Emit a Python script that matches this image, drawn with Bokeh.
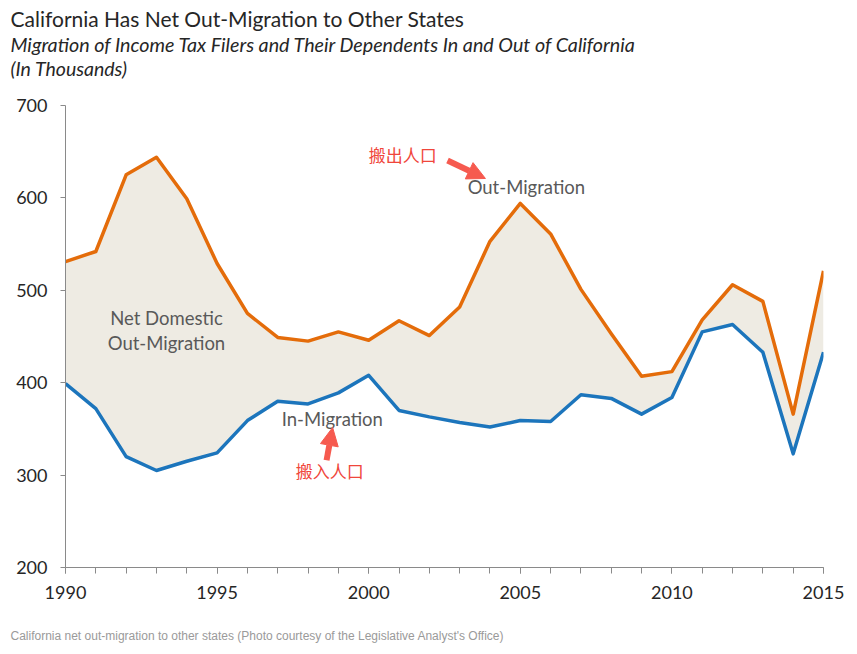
from bokeh.plotting import figure
from bokeh.models import Title, Arrow, NormalHead, FixedTicker, Range1d
from bokeh.core.properties import value
from bokeh.embed import file_html
from bokeh.resources import INLINE

years = list(range(1990, 2016))
out_migration = [531, 542, 625, 644, 599, 529, 475, 449, 445, 455, 446, 467, 451, 482,
                 553, 594, 561, 501, 453, 407, 412, 468, 506, 488, 366, 521]
in_migration = [399, 372, 320, 305, 315, 324, 359, 380, 377, 389, 408, 370, 363, 357,
                352, 359, 358, 387, 383, 366, 384, 455, 463, 433, 323, 433]
label_years = [1990, 1995, 2000, 2005, 2010, 2015]
y_ticks = [200, 300, 400, 500, 600, 700]

FONT = "Lato"
ORANGE = "#e46c0a"
BLUE = "#1c75bc"
FILL = "#eeebe3"
GRAY_TXT = "#595959"
RED = "#f0463b"
ARROW = "#f65a4f"

p = figure(width=850, height=650, output_backend="svg", toolbar_location=None,
           x_range=Range1d(1990, 2015), y_range=Range1d(200, 700),
           min_border_left=65, min_border_right=27, min_border_top=105,
           min_border_bottom=83, background_fill_color="white",
           border_fill_color="white")
p.xgrid.visible = False
p.ygrid.visible = False
p.outline_line_color = None

p.varea(x=years, y1=in_migration, y2=out_migration, fill_color=FILL)
p.line(years, out_migration, line_color=ORANGE, line_width=3.5, line_join="round")
p.line(years, in_migration, line_color=BLUE, line_width=3.5, line_join="round")

# axes
p.xaxis.ticker = FixedTicker(ticks=label_years, minor_ticks=years)
p.yaxis.ticker = FixedTicker(ticks=y_ticks, minor_ticks=[])
for ax in (p.xaxis[0], p.yaxis[0]):
    ax.axis_line_color = "#8a8a8a"
    ax.major_tick_line_color = "#8a8a8a"
    ax.minor_tick_line_color = "#8a8a8a"
    ax.major_tick_in = 0
    ax.minor_tick_in = 0
    ax.major_label_text_font = FONT
    ax.major_label_text_font_size = "18px"
    ax.major_label_text_color = "#262626"
p.xaxis.major_tick_out = 6
p.xaxis.minor_tick_out = 6
p.xaxis.major_label_standoff = 12
p.yaxis.major_tick_out = 5
p.yaxis.minor_tick_out = 0
p.yaxis.major_label_standoff = 13

# titles (first added sits closest to the plot)
p.add_layout(Title(text=" ", text_font=FONT, text_font_size="10px", standoff=12), "above")
p.add_layout(Title(text="(In Thousands)", text_font=FONT, text_font_style="italic",
                   text_font_size="19.5px", text_color="#262626", align="left",
                   offset=-55, standoff=0), "above")
p.add_layout(Title(text="Migration of Income Tax Filers and Their Dependents In and Out of California",
                   text_font=FONT, text_font_style="italic", text_font_size="19.7px",
                   text_color="#262626", align="left", offset=-55, standoff=-3), "above")
p.add_layout(Title(text="California Has Net Out-Migration to Other States",
                   text_font=FONT, text_font_style="normal", text_font_size="21px",
                   text_color="#262626", align="left", offset=-55, standoff=3), "above")

p.add_layout(Title(text=" ", text_font=FONT, text_font_size="10px", standoff=11), "below")
p.add_layout(Title(text="California net out-migration to other states (Photo courtesy of the Legislative Analyst's Office)",
                   text_font="Liberation Sans", text_font_style="normal", text_font_size="12px",
                   text_color="#9a9a9a", align="left", offset=-55, standoff=0), "below")

# in-chart labels
p.text(x=[2005.2], y=[612.3], text=["Out-Migration"], text_font=value(FONT),
       text_font_size="18.5px", text_color=GRAY_TXT, text_align="center", text_baseline="middle")
p.text(x=[1998.8], y=[360.2], text=["In-Migration"], text_font=value(FONT),
       text_font_size="18.5px", text_color=GRAY_TXT, text_align="center", text_baseline="middle")
p.text(x=[1993.33, 1993.33], y=[469.5, 443.5], text=["Net Domestic", "Out-Migration"],
       text_font=value(FONT), text_font_size="18.5px", text_color=GRAY_TXT,
       text_align="center", text_baseline="middle")

# Chinese annotations
p.text(x=[2000.0], y=[647.0], text=["搬出人口"], text_font=value("Noto Sans CJK SC"),
       text_font_size="17px", text_color=RED, text_align="left", text_baseline="middle")
p.text(x=[1997.59], y=[305.0], text=["搬入人口"], text_font=value("Noto Sans CJK SC"),
       text_font_size="17px", text_color=RED, text_align="left", text_baseline="middle")

p.add_layout(Arrow(x_start=2002.6, y_start=640.5, x_end=2003.85, y_end=621.0,
                   line_color=ARROW, line_width=6,
                   end=NormalHead(size=18, fill_color=ARROW, line_color=ARROW)))
p.add_layout(Arrow(x_start=1998.61, y_start=316.0, x_end=1998.81, y_end=351.5,
                   line_color=ARROW, line_width=6,
                   end=NormalHead(size=18, fill_color=ARROW, line_color=ARROW)))

open("out.html", "w").write(file_html(p, INLINE))
